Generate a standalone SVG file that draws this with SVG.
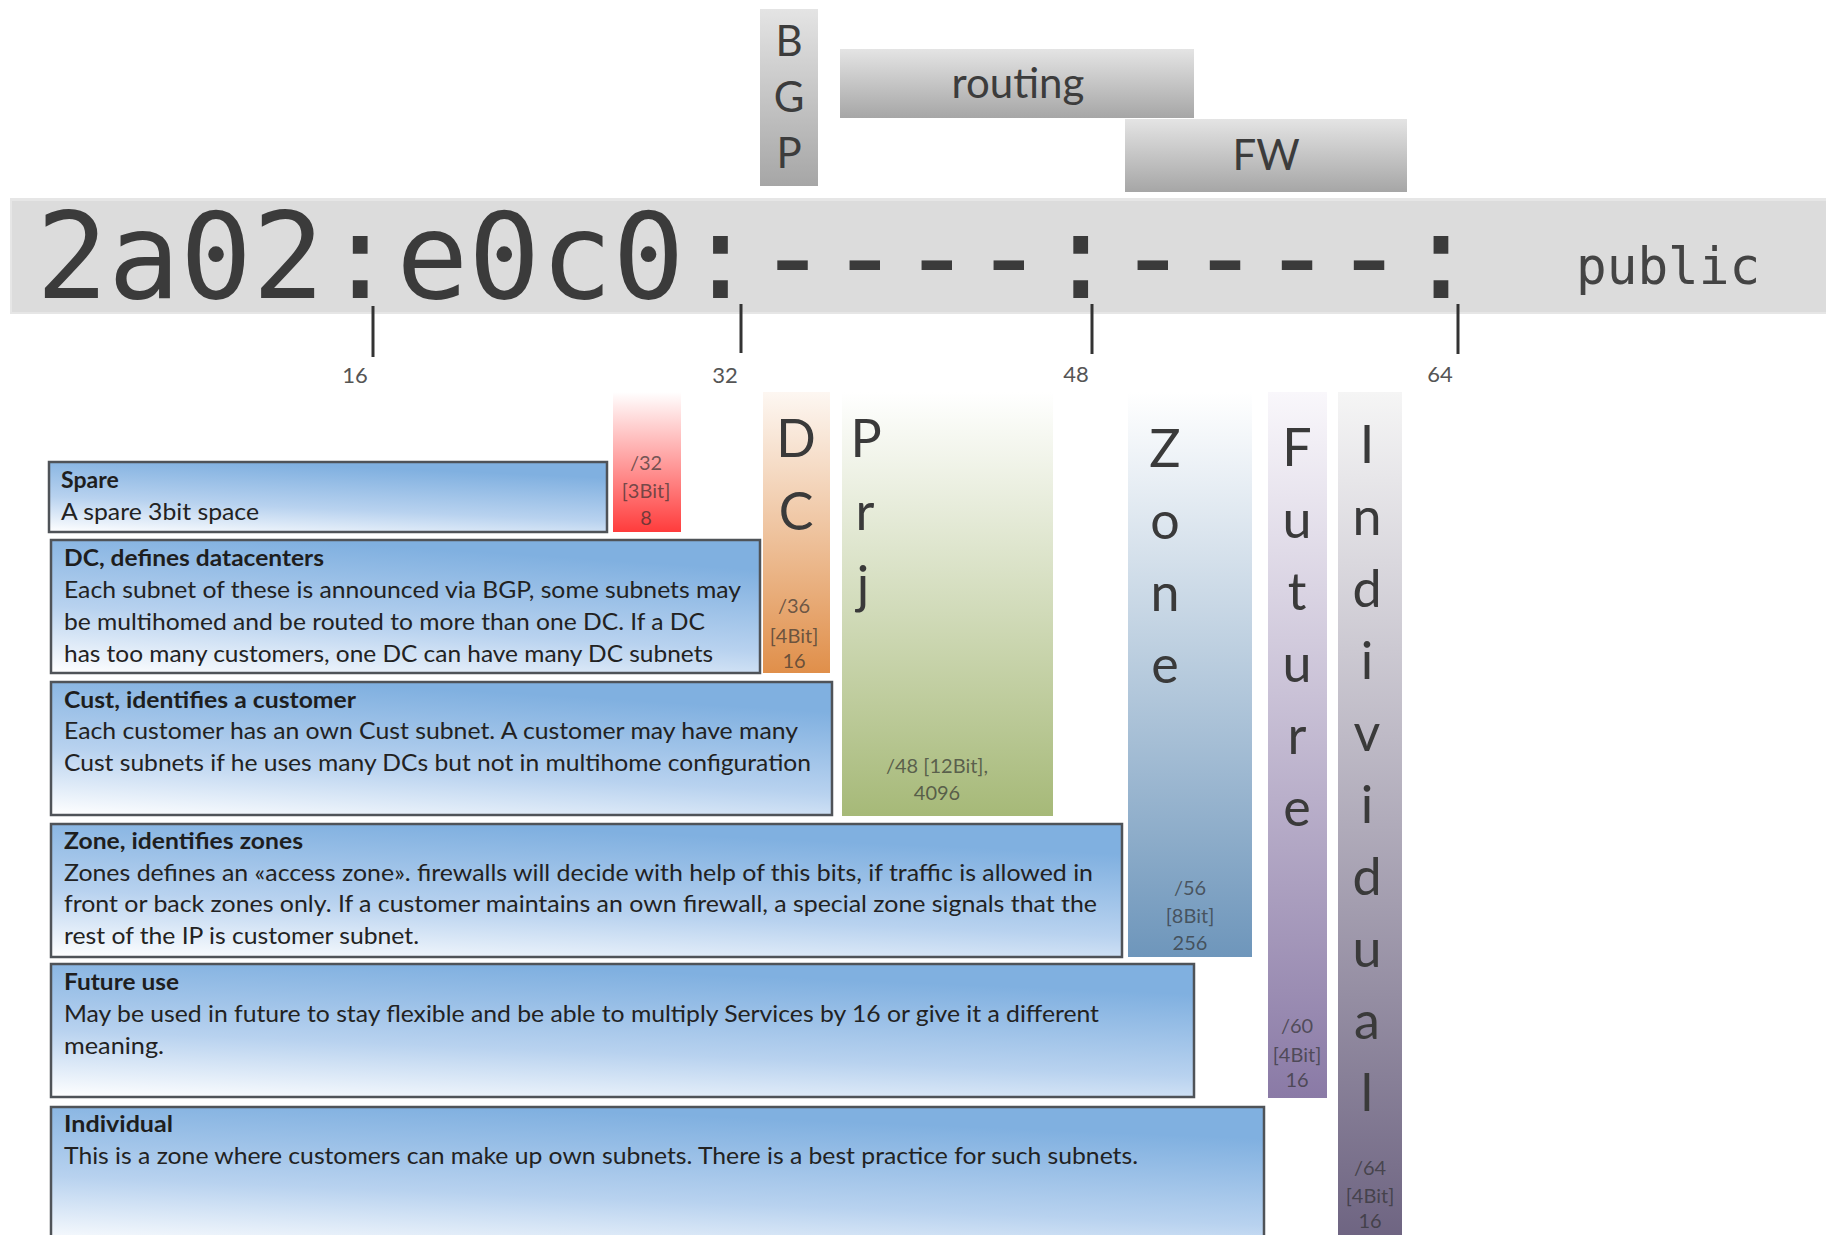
<svg xmlns="http://www.w3.org/2000/svg" width="1826" height="1235" viewBox="0 0 1826 1235">
  <defs>
    <linearGradient id="gGray" x1="0" y1="0" x2="0" y2="1">
      <stop offset="0" stop-color="#e4e4e4"/>
      <stop offset="1" stop-color="#a6a6a6"/>
    </linearGradient>
    <linearGradient id="gBox" x1="0" y1="1" x2="0.35" y2="0">
      <stop offset="0" stop-color="#ffffff"/>
      <stop offset="0.45" stop-color="#b8d2ef"/>
      <stop offset="1" stop-color="#80b0e0"/>
    </linearGradient>
    <linearGradient id="gRed" x1="0" y1="0" x2="0" y2="1">
      <stop offset="0" stop-color="#ffffff"/>
      <stop offset="1" stop-color="#ff3c3c"/>
    </linearGradient>
    <linearGradient id="gOrange" x1="0" y1="0" x2="0" y2="1">
      <stop offset="0" stop-color="#fdf7f2"/>
      <stop offset="1" stop-color="#e08f4a"/>
    </linearGradient>
    <linearGradient id="gGreen" x1="0" y1="0" x2="0" y2="1">
      <stop offset="0" stop-color="#ffffff"/>
      <stop offset="1" stop-color="#a6b978"/>
    </linearGradient>
    <linearGradient id="gZone" x1="0" y1="0" x2="0" y2="1">
      <stop offset="0" stop-color="#ffffff"/>
      <stop offset="1" stop-color="#6e96bb"/>
    </linearGradient>
    <linearGradient id="gFuture" x1="0" y1="0" x2="0" y2="1">
      <stop offset="0" stop-color="#f9f7fb"/>
      <stop offset="1" stop-color="#8a7aa6"/>
    </linearGradient>
    <linearGradient id="gIndiv" x1="0" y1="0" x2="0" y2="1">
      <stop offset="0" stop-color="#f5f5f5"/>
      <stop offset="1" stop-color="#6c6280"/>
    </linearGradient>
    <style>
      .sans { font-family: Lato, "Open Sans", "Liberation Sans", sans-serif; }
      .mono { font-family: "DejaVu Sans Mono", "Liberation Mono", monospace; }
      .tag { fill: url(#gGray); }
      .tagtxt { font-family: Lato, "Open Sans", "Liberation Sans", sans-serif; font-size: 42px; fill: #3c3c3c; text-anchor: middle; }
      .box { fill: url(#gBox); stroke: #4f5358; stroke-width: 2.5; }
      .title { font-family: Lato, "Open Sans", "Liberation Sans", sans-serif; font-size: 23px; font-weight: bold; fill: #1e1e1e; }
      .body { font-family: Lato, "Open Sans", "Liberation Sans", sans-serif; font-size: 23px; fill: #222; }
      .big { font-family: Lato, "Open Sans", "Liberation Sans", sans-serif; font-size: 52px; fill: #3a3a3a; text-anchor: middle; }
      .small { font-family: Lato, "Open Sans", "Liberation Sans", sans-serif; font-size: 20px; fill: #2e2e2e; fill-opacity: 0.68; text-anchor: middle; }
      .tick { stroke: #333; stroke-width: 3; }
      .ticklbl { font-family: Lato, "Open Sans", "Liberation Sans", sans-serif; font-size: 22px; fill: #555; text-anchor: middle; }
    </style>
  </defs>

  <rect width="1826" height="1235" fill="#ffffff"/>

  <!-- top tags: BGP, routing, FW -->
  <g id="bgp">
    <rect class="tag" x="760" y="9" width="58" height="177"/>
    <text class="tagtxt" x="789" y="56">B</text>
    <text class="tagtxt" x="789" y="112">G</text>
    <text class="tagtxt" x="789" y="168">P</text>
  </g>
  <g id="routing">
    <rect class="tag" x="840" y="49" width="354" height="69"/>
    <text class="tagtxt" x="1018" y="98">routing</text>
  </g>
  <g id="fw">
    <rect class="tag" x="1125" y="119" width="282" height="73"/>
    <text class="tagtxt" x="1266" y="170">FW</text>
  </g>

  <!-- address bar -->
  <g id="address">
    <rect x="10" y="198" width="1816" height="116" fill="#e6e6e6"/>
    <rect x="12" y="201" width="1814" height="111" fill="#dcdcdc"/>
    <text class="mono" x="36" y="298" font-size="119.7" fill="#3b3b3b">2a02:e0c0:----:----:</text>
    <text class="mono" x="1576" y="284" font-size="51" fill="#444">public</text>
  </g>

  <!-- bit scale -->
  <g id="scale">
    <line class="tick" x1="373" y1="306" x2="373" y2="357"/>
    <line class="tick" x1="741" y1="304" x2="741" y2="353"/>
    <line class="tick" x1="1092" y1="304" x2="1092" y2="354"/>
    <line class="tick" x1="1458" y1="304" x2="1458" y2="354"/>
    <text class="ticklbl" x="355" y="383">16</text>
    <text class="ticklbl" x="725" y="383">32</text>
    <text class="ticklbl" x="1076" y="382">48</text>
    <text class="ticklbl" x="1440" y="382">64</text>
  </g>

  <!-- bit columns -->
  <g id="col-spare">
    <rect x="613" y="392" width="68" height="140" fill="url(#gRed)"/>
    <text class="small" x="646" y="470">/32</text>
    <text class="small" x="646" y="498">[3Bit]</text>
    <text class="small" x="646" y="525">8</text>
  </g>
  <g id="col-dc">
    <rect x="763" y="392" width="67" height="281" fill="url(#gOrange)"/>
    <text class="big" x="796" y="457">D</text>
    <text class="big" x="796" y="530">C</text>
    <text class="small" x="794" y="613">/36</text>
    <text class="small" x="794" y="643">[4Bit]</text>
    <text class="small" x="794" y="668">16</text>
  </g>
  <g id="col-prj">
    <rect x="842" y="392" width="211" height="424" fill="url(#gGreen)"/>
    <text class="big" x="866" y="457">P</text>
    <text class="big" x="865" y="530">r</text>
    <text class="big" x="863" y="603">j</text>
    <text class="small" x="937" y="773">/48 [12Bit],</text>
    <text class="small" x="937" y="800">4096</text>
  </g>
  <g id="col-zone">
    <rect x="1128" y="392" width="124" height="565" fill="url(#gZone)"/>
    <text class="big" x="1165" y="467">Z</text>
    <text class="big" x="1165" y="539">o</text>
    <text class="big" x="1165" y="611">n</text>
    <text class="big" x="1165" y="683">e</text>
    <text class="small" x="1190" y="895">/56</text>
    <text class="small" x="1190" y="923">[8Bit]</text>
    <text class="small" x="1190" y="950">256</text>
  </g>
  <g id="col-future">
    <rect x="1268" y="392" width="59" height="706" fill="url(#gFuture)"/>
    <text class="big" x="1297" y="466">F</text>
    <text class="big" x="1297" y="538">u</text>
    <text class="big" x="1297" y="610">t</text>
    <text class="big" x="1297" y="682">u</text>
    <text class="big" x="1297" y="754">r</text>
    <text class="big" x="1297" y="826">e</text>
    <text class="small" x="1297" y="1033">/60</text>
    <text class="small" x="1297" y="1062">[4Bit]</text>
    <text class="small" x="1297" y="1087">16</text>
  </g>
  <g id="col-individual">
    <rect x="1338" y="392" width="64" height="860" fill="url(#gIndiv)"/>
    <text class="big" x="1367" y="463">I</text>
    <text class="big" x="1367" y="535">n</text>
    <text class="big" x="1367" y="607">d</text>
    <text class="big" x="1367" y="679">i</text>
    <text class="big" x="1367" y="751">v</text>
    <text class="big" x="1367" y="823">i</text>
    <text class="big" x="1367" y="895">d</text>
    <text class="big" x="1367" y="967">u</text>
    <text class="big" x="1367" y="1039">a</text>
    <text class="big" x="1367" y="1111">l</text>
    <text class="small" x="1370" y="1175">/64</text>
    <text class="small" x="1370" y="1203">[4Bit]</text>
    <text class="small" x="1370" y="1228">16</text>
  </g>

  <!-- description boxes -->
  <g id="desc-spare">
    <rect class="box" x="49" y="462" width="558" height="70"/>
    <text class="title" x="61" y="488">Spare</text>
    <text class="body" x="61" y="520" textLength="198" lengthAdjust="spacingAndGlyphs">A spare 3bit space</text>
  </g>
  <g id="desc-dc">
    <rect class="box" x="51" y="540" width="709" height="133"/>
    <text class="title" x="64" y="566" textLength="260" lengthAdjust="spacingAndGlyphs">DC, defines datacenters</text>
    <text class="body" x="64" y="598" textLength="677" lengthAdjust="spacingAndGlyphs">Each subnet of these is announced via BGP, some subnets may</text>
    <text class="body" x="64" y="630" textLength="641" lengthAdjust="spacingAndGlyphs">be multihomed and be routed to more than one DC. If a DC</text>
    <text class="body" x="64" y="662" textLength="649" lengthAdjust="spacingAndGlyphs">has too many customers, one DC can have many DC subnets</text>
  </g>
  <g id="desc-cust">
    <rect class="box" x="51" y="682" width="781" height="133"/>
    <text class="title" x="64" y="708" textLength="292" lengthAdjust="spacingAndGlyphs">Cust, identifies a customer</text>
    <text class="body" x="64" y="739" textLength="734" lengthAdjust="spacingAndGlyphs">Each customer has an own Cust subnet. A customer may have many</text>
    <text class="body" x="64" y="771" textLength="747" lengthAdjust="spacingAndGlyphs">Cust subnets if he uses many DCs but not in multihome configuration</text>
  </g>
  <g id="desc-zone">
    <rect class="box" x="51" y="824" width="1071" height="133"/>
    <text class="title" x="64" y="849" textLength="239" lengthAdjust="spacingAndGlyphs">Zone, identifies zones</text>
    <text class="body" x="64" y="881" textLength="1029" lengthAdjust="spacingAndGlyphs">Zones defines an «access zone». firewalls will decide with help of this bits, if traffic is allowed in</text>
    <text class="body" x="64" y="912" textLength="1033" lengthAdjust="spacingAndGlyphs">front or back zones only. If a customer maintains an own firewall, a special zone signals that the</text>
    <text class="body" x="64" y="944" textLength="355" lengthAdjust="spacingAndGlyphs">rest of the IP is customer subnet.</text>
  </g>
  <g id="desc-future">
    <rect class="box" x="51" y="964" width="1143" height="133"/>
    <text class="title" x="64" y="990" textLength="115" lengthAdjust="spacingAndGlyphs">Future use</text>
    <text class="body" x="64" y="1022" textLength="1035" lengthAdjust="spacingAndGlyphs">May be used in future to stay flexible and be able to multiply Services by 16 or give it a different</text>
    <text class="body" x="64" y="1054" textLength="100" lengthAdjust="spacingAndGlyphs">meaning.</text>
  </g>
  <g id="desc-individual">
    <rect class="box" x="51" y="1107" width="1213" height="140"/>
    <text class="title" x="64" y="1132" textLength="109" lengthAdjust="spacingAndGlyphs">Individual</text>
    <text class="body" x="64" y="1164" textLength="1074" lengthAdjust="spacingAndGlyphs">This is a zone where customers can make up own subnets. There is a best practice for such subnets.</text>
  </g>
</svg>
